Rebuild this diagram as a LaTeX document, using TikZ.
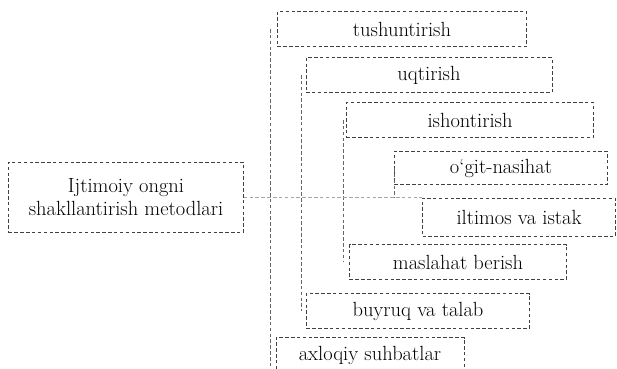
\documentclass[tikz,border=0pt]{standalone}
\usepackage{xcolor}
\usepackage{tikz}

\tikzset{
  method/.style={draw=black!75, densely dashed, thin, minimum height=1.05cm,
    inner sep=2pt, font=\fontsize{17.5}{19}\selectfont},
  link/.style={draw=black!60, densely dashed, thin}
}

\begin{document}
\begin{tikzpicture}[x=0.03cm, y=0.03cm]
\useasboundingbox (0,0) rectangle (617,-369);

\node[method, minimum width=7.05cm, minimum height=2.1cm, align=center] (main) at (126,-197)
  {Ijtimoiy ongni\\shakllantirish metodlari};

\node[method, minimum width=7.47cm] (tush) at (402,-29) {tushuntirish};
\node[method, minimum width=7.38cm] (uqt) at (429,-75) {uqtirish};
\node[method, minimum width=7.41cm] (ishon) at (470,-120) {ishontirish};
\node[method, minimum width=6.39cm, minimum height=1cm] (ogit) at (501,-168) {o`git-nasihat};
\node[method, minimum width=5.79cm, minimum height=1.14cm] (iltimos) at (519,-217) {iltimos va istak};
\node[method, minimum width=6.51cm] (maslahat) at (458,-262) {maslahat berish};
\node[method, minimum width=6.69cm] (buyruq) at (418,-311) {buyruq va talab};
\node[method, minimum width=5.64cm] (axloqiy) at (370,-355) {axloqiy suhbatlar};

% brackets
\coordinate (v1) at (270,0);
\coordinate (v2) at (301,0);
\coordinate (v3) at (343,0);
\coordinate (v4) at (394,0);

\draw[link] (tush.west -| v1) -- (axloqiy.south -| v1);
\draw[link] (uqt.west -| v2) -- (buyruq.west -| v2);
\draw[link] (ishon.west -| v3) -- (maslahat.west -| v3);
\draw[link] (ogit.west -| v4) -- (iltimos.north -| v4);

\draw[link, draw=black!35] (main.east) -- (main.east -| iltimos.west);
\end{tikzpicture}
\end{document}
